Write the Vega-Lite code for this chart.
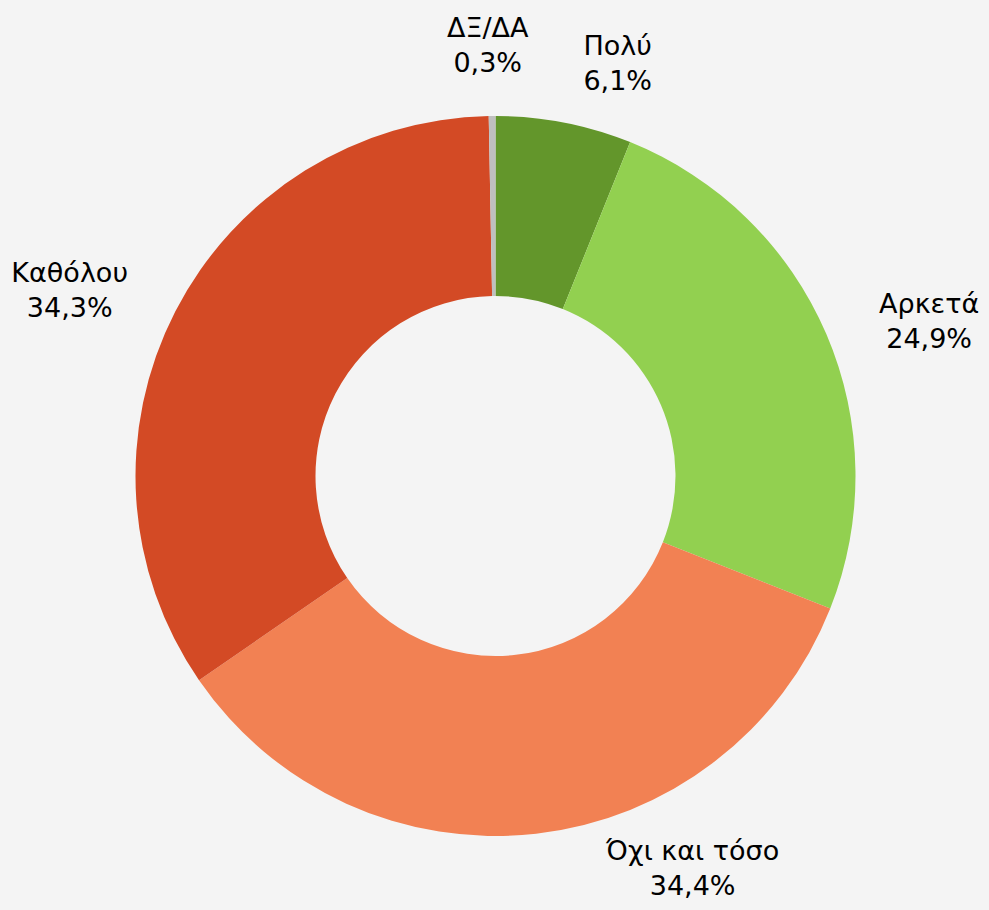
{
  "$schema": "https://vega.github.io/schema/vega-lite/v6.json",
  "width": 987,
  "height": 868,
  "autosize": {"type": "none"},
  "padding": {"left": 2, "top": 42, "right": 0, "bottom": 0},
  "background": "#F4F4F4",
  "view": {"stroke": null},
  "config": {"text": {"font": "DejaVu Sans", "fontSize": 27, "lineHeight": 35, "color": "#000000"}},
  "data": {"values": [
    {"cat": "Πολύ", "value": 6.1, "label": "Πολύ\n6,1%", "k": 1},
    {"cat": "Αρκετά", "value": 24.9, "label": "Αρκετά\n24,9%", "k": 2},
    {"cat": "Όχι και τόσο", "value": 34.4, "label": "Όχι και τόσο\n34,4%", "k": 3},
    {"cat": "Καθόλου", "value": 34.3, "label": "Καθόλου\n34,3%", "k": 4},
    {"cat": "ΔΞ/ΔΑ", "value": 0.3, "label": "ΔΞ/ΔΑ\n0,3%", "k": 5}
  ]},
  "encoding": {
    "theta": {"field": "value", "type": "quantitative", "stack": true},
    "order": {"field": "k", "type": "quantitative"}
  },
  "layer": [
    {
      "mark": {"type": "arc", "outerRadius": 360, "innerRadius": 180},
      "encoding": {
        "color": {"field": "cat", "type": "nominal", "legend": null,
          "scale": {"domain": ["Πολύ", "Αρκετά", "Όχι και τόσο", "Καθόλου", "ΔΞ/ΔΑ"],
                    "range": ["#63962B", "#92D050", "#F28153", "#D34A25", "#BFBFBF"]}}
      }
    },
    {
      "mark": {"type": "text", "radius": 400, "align": "center", "baseline": "middle", "lineBreak": "\n", "dx": 46, "dy": -36},
      "encoding": {"text": {"condition": {"test": "datum.cat === 'Πολύ'", "field": "label"}, "value": ""}}
    },
    {
      "mark": {"type": "text", "radius": 400, "align": "center", "baseline": "middle", "lineBreak": "\n", "dx": 66, "dy": -13},
      "encoding": {"text": {"condition": {"test": "datum.cat === 'Αρκετά'", "field": "label"}, "value": ""}}
    },
    {
      "mark": {"type": "text", "radius": 400, "align": "center", "baseline": "middle", "lineBreak": "\n", "dx": 152, "dy": -21},
      "encoding": {"text": {"condition": {"test": "datum.cat === 'Όχι και τόσο'", "field": "label"}, "value": ""}}
    },
    {
      "mark": {"type": "text", "radius": 400, "align": "center", "baseline": "middle", "lineBreak": "\n", "dx": -70, "dy": -19},
      "encoding": {"text": {"condition": {"test": "datum.cat === 'Καθόλου'", "field": "label"}, "value": ""}}
    },
    {
      "mark": {"type": "text", "radius": 400, "align": "center", "baseline": "middle", "lineBreak": "\n", "dx": -4, "dy": -47},
      "encoding": {"text": {"condition": {"test": "datum.cat === 'ΔΞ/ΔΑ'", "field": "label"}, "value": ""}}
    }
  ]
}
